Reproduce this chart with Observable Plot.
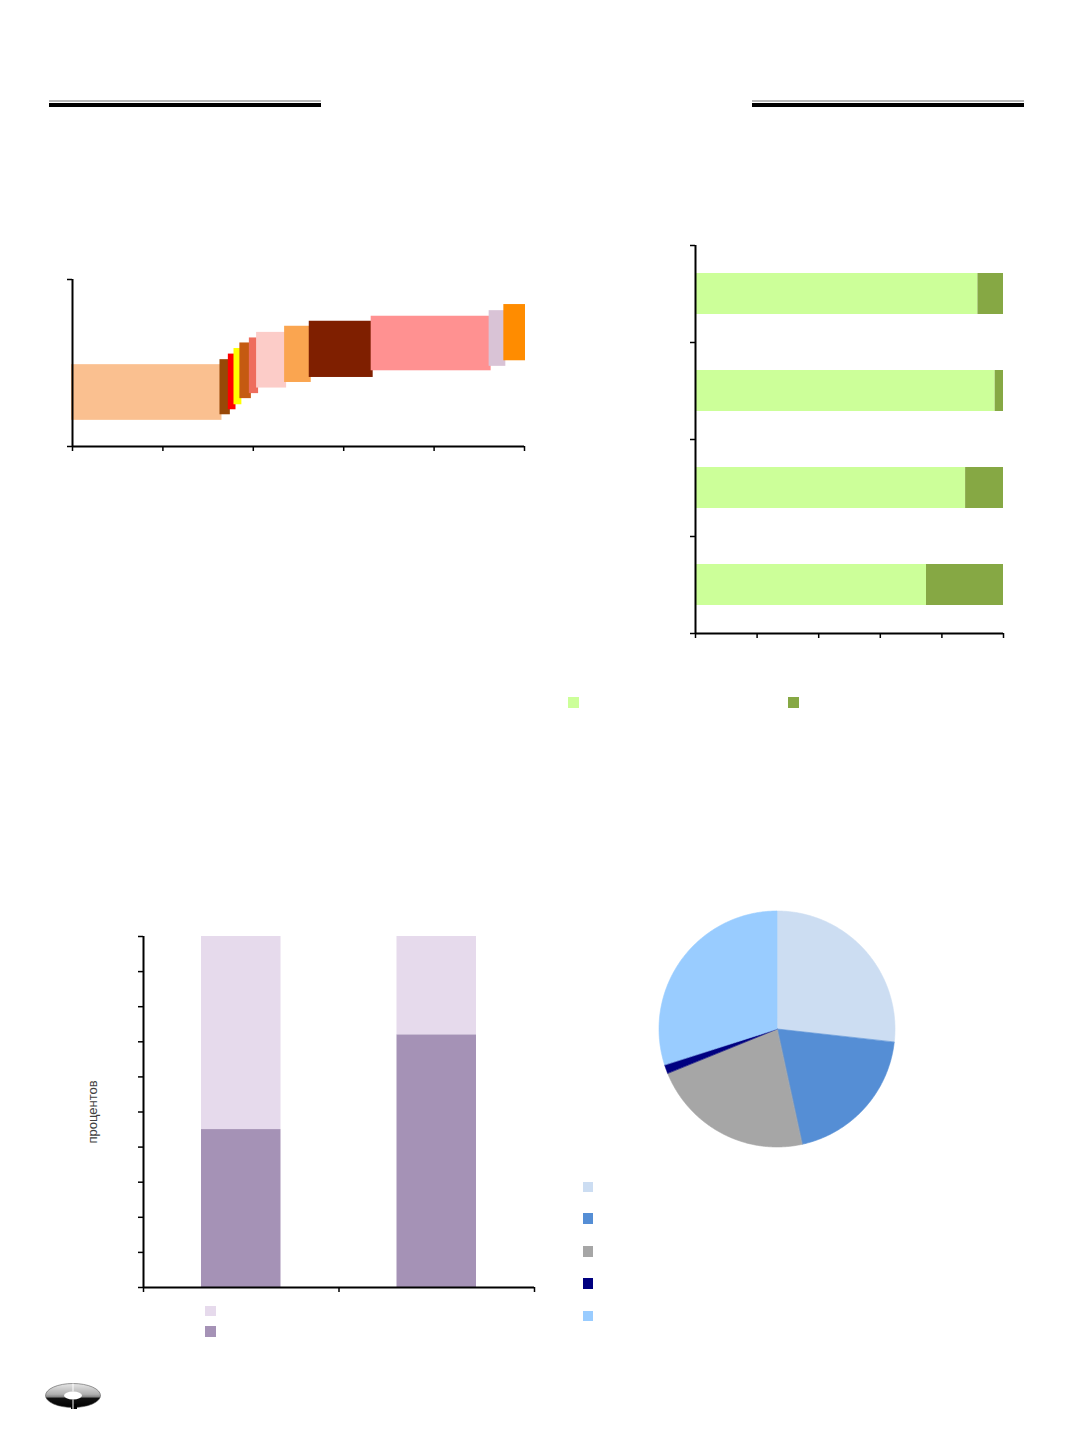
<!DOCTYPE html>
<html>
<head>
<meta charset="utf-8">
<script src="https://cdn.jsdelivr.net/npm/d3@7"></script>
<script src="https://cdn.jsdelivr.net/npm/@observablehq/plot@0.6"></script>
<style>
  html, body { margin: 0; padding: 0; background: #fff; }
  #page { position: relative; width: 1072px; height: 1433px; overflow: hidden; background: #fff; font-family: "Liberation Sans", Arial, sans-serif; }
  .abs { position: absolute; }
  .sq { position: absolute; width: 10px; height: 10px; }
</style>
</head>
<body>
<div id="page"></div>
<script>
// ---------- DATA ----------
// Chart 1: floating variable-width bars (width = share of x, low/high = y range)
const c1Ids = ["s1","s2","s3","s4","s5","s6","s7","s8","s9","s10","s11","s12"];
const c1Widths = [32.85, 1.85, 1.25, 1.3, 2.1, 1.6, 6.2, 5.45, 13.7, 26.1, 3.25, 4.35];
const c1Low  = [4.7, 5.7, 6.6, 7.5, 8.6, 9.5, 10.5, 11.5, 12.4, 13.6, 14.4, 15.4];
const c1High = [14.7, 15.6, 16.6, 17.6, 18.6, 19.5, 20.5, 21.6, 22.5, 23.4, 24.4, 25.5];
const c1Colors = ["#FAC090","#984807","#FF0000","#FFFF00","#C55A11","#EE6D5D","#FCCCC8","#FAA550","#7F1F00","#FF9191","#D9C3D6","#FF8C00"];
const c1XTicks = [0, 20, 40, 60, 80, 100];
const c1YTicks = [0, 30];

// Chart 2: horizontal 100% stacked bars
const c2Cats = ["c1", "c2", "c3", "c4"];
const c2SeriesA = [91.7, 97.3, 87.7, 75.0];
const c2SeriesB = [8.3, 2.7, 12.3, 25.0];
const c2Colors = ["#CCFF99", "#86A844"];
const c2XTicks = [0, 20, 40, 60, 80, 100];

// Chart 3: vertical 100% stacked bars
const c3Cats = ["b1", "b2"];
const c3Dark = [45, 72];
const c3Light = [55, 28];
const c3Colors = ["#A592B6", "#E6DAEC"];
const c3YTicks = [0, 10, 20, 30, 40, 50, 60, 70, 80, 90, 100];
const c3Label = "процентов";

// Chart 4: pie
const c4Keys = ["p1", "p2", "p3", "p4", "p5"];
const c4Shares = [26.8, 19.8, 22.3, 1.2, 29.9];
const c4Colors = ["#CCDDF2", "#558ED5", "#A6A6A6", "#000080", "#99CCFF"];

// ---------- HELPERS ----------
const page = document.getElementById("page");
function place(node, left, top) {
  node.classList.add("abs");
  node.style.left = left + "px";
  node.style.top = top + "px";
  page.appendChild(node);
}
function square(left, top, color, size = 10.5) {
  const d = document.createElement("div");
  d.className = "sq";
  d.style.left = left + "px"; d.style.top = top + "px";
  d.style.width = size + "px"; d.style.height = size + "px";
  d.style.background = color;
  page.appendChild(d);
}
function hline(left, top, width, h, color) {
  const d = document.createElement("div");
  d.style.position = "absolute";
  d.style.left = left + "px"; d.style.top = top + "px";
  d.style.width = width + "px"; d.style.height = h + "px";
  d.style.background = color;
  page.appendChild(d);
}
const svgStyle = {background: "none", overflow: "visible"};

// header double rules
hline(49, 100.3, 272, 1.4, "#B8B8B8");
hline(49, 103.3, 272, 3.4, "#000");
hline(752, 100.3, 272, 1.4, "#B8B8B8");
hline(752, 103.3, 272, 3.4, "#000");

// ---------- CHART 1 ----------
let acc = 0;
const c1Rows = c1Ids.map((id, i) => {
  const r = {id, x1: acc, x2: acc + c1Widths[i], y1: c1Low[i], y2: c1High[i]};
  acc += c1Widths[i];
  return r;
});
const chart1 = Plot.plot({
  width: 500, height: 200,
  marginLeft: 32, marginRight: 16, marginTop: 19, marginBottom: 14,
  style: svgStyle,
  x: {domain: [0, 100]},
  y: {domain: [0, 30]},
  color: {domain: c1Ids, range: c1Colors},
  marks: [
    Plot.rect(c1Rows, {x1: "x1", x2: "x2", y1: "y1", y2: "y2", fill: "id", insetLeft: -1, insetRight: -1}),
    Plot.axisX({ticks: c1XTicks, tickSize: 5, fill: "none", label: null, color: "black", strokeWidth: 1.5}),
    Plot.axisY({ticks: c1YTicks, tickSize: 5, fill: "none", label: null, color: "black", strokeWidth: 1.5}),
    Plot.ruleX([0], {y1: 0, y2: 30, stroke: "black", strokeWidth: 2}),
    Plot.ruleY([0], {x1: 0, x2: 100, stroke: "black", strokeWidth: 2})
  ]
});
place(chart1, 40, 260);

// ---------- CHART 2 ----------
const c2Rows = c2Cats.flatMap((c, i) => [
  {cat: c, pos: i, series: "A", value: c2SeriesA[i]},
  {cat: c, pos: i, series: "B", value: c2SeriesB[i]}
]);
const chart2 = Plot.plot({
  width: 360, height: 420,
  marginLeft: 35, marginRight: 17, marginTop: 15, marginBottom: 17,
  style: svgStyle,
  x: {domain: [0, 100]},
  y: {domain: [c2Cats.length, 0]},
  color: {domain: ["A", "B"], range: c2Colors},
  marks: [
    Plot.rectX(c2Rows, {x: "value", y1: "pos", y2: (d) => d.pos + 1, fill: "series", insetTop: 28, insetBottom: 28}),
    Plot.axisX({ticks: c2XTicks, tickSize: 5, fill: "none", label: null, color: "black", strokeWidth: 1.5}),
    Plot.axisY({ticks: d3.range(0, c2Cats.length + 1), tickSize: 5, fill: "none", label: null, color: "black", strokeWidth: 1.5}),
    Plot.ruleX([0], {y1: 0, y2: c2Cats.length, stroke: "black", strokeWidth: 2}),
    Plot.ruleY([c2Cats.length], {x1: 0, x2: 100, stroke: "black", strokeWidth: 2})
  ]
});
place(chart2, 660, 230);
square(568.3, 697.3, c2Colors[0]);
square(788.3, 697.3, c2Colors[1]);

// ---------- CHART 3 ----------
const c3Rows = c3Cats.flatMap((c, i) => [
  {cat: c, pos: i, series: "dark", value: c3Dark[i]},
  {cat: c, pos: i, series: "light", value: c3Light[i]}
]);
const chart3 = Plot.plot({
  width: 490, height: 390,
  marginLeft: 83, marginRight: 16, marginTop: 16, marginBottom: 23,
  style: svgStyle,
  x: {domain: [0, c3Cats.length]},
  y: {domain: [0, 100]},
  color: {domain: ["dark", "light"], range: c3Colors},
  marks: [
    Plot.rectY(c3Rows, {x1: "pos", x2: (d) => d.pos + 1, y: "value", fill: "series", insetLeft: 58, insetRight: 58}),
    Plot.axisY({ticks: c3YTicks, tickSize: 5, fill: "none", label: null, color: "black", strokeWidth: 1.5}),
    Plot.axisX({ticks: d3.range(0, c3Cats.length + 1), tickSize: 5, fill: "none", label: null, color: "black", strokeWidth: 1.5}),
    Plot.ruleX([0], {y1: 0, y2: 100, stroke: "black", strokeWidth: 2}),
    Plot.ruleY([0], {x1: 0, x2: c3Cats.length, stroke: "black", strokeWidth: 2}),
    Plot.text([c3Label], {frameAnchor: "left", rotate: -90, dx: -51, textAnchor: "middle", fontSize: 13, fill: "#404040", fontFamily: "Liberation Sans, Arial, sans-serif"})
  ]
});
place(chart3, 60, 920);
square(205, 1305.5, c3Colors[1]);
square(205, 1326.3, c3Colors[0]);

// ---------- CHART 4 (pie) ----------
const total = d3.sum(c4Shares);
const c4Points = [];
let a = 0;
c4Keys.forEach((key, i) => {
  const a0 = a, a1 = a + c4Shares[i] / total * 2 * Math.PI;
  const n = Math.max(2, Math.ceil((a1 - a0) / (Math.PI / 360)));
  for (let k = 0; k <= n; k++) {
    const t = a0 + (a1 - a0) * k / n;
    c4Points.push({key, x: Math.sin(t), y: Math.cos(t)});
  }
  a = a1;
});
const chart4 = Plot.plot({
  width: 260, height: 260,
  margin: 12,
  style: svgStyle,
  x: {domain: [-1, 1], axis: null},
  y: {domain: [-1, 1], axis: null},
  color: {domain: c4Keys, range: c4Colors},
  marks: [
    Plot.area(c4Points, {x1: "x", y1: "y", x2: 0, y2: 0, z: "key", fill: "key", stroke: "key", strokeWidth: 0.6})
  ]
});
place(chart4, 647, 899);
[1181.7, 1213.3, 1246, 1278.3, 1310.7].forEach((t, i) => square(582.7, t, c4Colors[i]));

// ---------- logo (decoration) ----------
const logo = document.createElementNS("http://www.w3.org/2000/svg", "svg");
logo.setAttribute("width", "60"); logo.setAttribute("height", "32");
logo.innerHTML = `
  <defs><linearGradient id="lg" x1="0" y1="0" x2="0" y2="1">
    <stop offset="0" stop-color="#e6e6e6"/><stop offset="0.45" stop-color="#b0b0b0"/>
    <stop offset="0.55" stop-color="#888"/><stop offset="0.62" stop-color="#111"/><stop offset="1" stop-color="#000"/></linearGradient></defs>
  <ellipse cx="28" cy="13.5" rx="27.5" ry="12" fill="url(#lg)" stroke="#555" stroke-width="0.6"/>
  <rect x="26" y="22" width="6" height="5" fill="#000"/>
  <ellipse cx="28" cy="13.5" rx="9" ry="4" fill="#fff"/>
  <line x1="28" y1="1.5" x2="28" y2="9.5" stroke="#fff" stroke-width="1"/>
  <line x1="28" y1="17.5" x2="28" y2="27" stroke="#fff" stroke-width="1"/>`;
place(logo, 45, 1382);
</script>
</body>
</html>
